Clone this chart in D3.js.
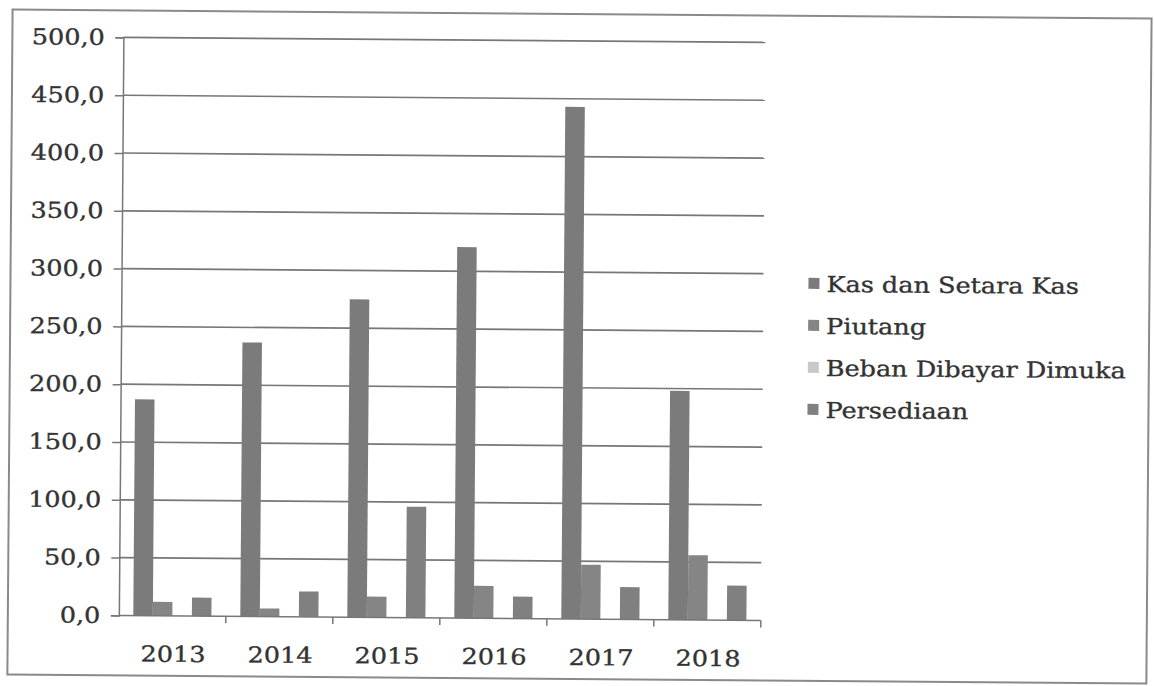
<!DOCTYPE html>
<html>
<head>
<meta charset="utf-8">
<script src="https://cdn.jsdelivr.net/npm/d3@7"></script>
<style>
  html, body { margin: 0; padding: 0; background: #fff; }
  svg { display: block; }
</style>
</head>
<body>
<svg id="chart" width="1154" height="686"></svg>
<script>
// Asset components by year (values in the chart's units)
const years = ["2013", "2014", "2015", "2016", "2017", "2018"];
const seriesNames = ["Kas dan Setara Kas", "Piutang", "Beban Dibayar Dimuka", "Persediaan"];
const kasDanSetaraKas = [187, 237, 275, 321, 443, 198];
const piutang = [12, 7, 18, 28, 47, 56];
const bebanDibayarDimuka = [0, 0, 0, 0, 0, 0];
const persediaan = [16, 22, 96, 19, 28, 30];
const yTicks = [0, 50, 100, 150, 200, 250, 300, 350, 400, 450, 500];

const seriesValues = [kasDanSetaraKas, piutang, bebanDibayarDimuka, persediaan];
const seriesColors = ["#7b7b7b", "#858585", "#c9c9c9", "#808080"];

const FONT = "'DejaVu Serif', 'Liberation Serif', serif";
const TEXT_COLOR = "#333";
const STRETCH = 1.16; // wide, bookish letterforms

// shared look for every label
function styleText(sel, size) {
  sel.attr("font-family", FONT)
    .attr("font-size", size)
    .attr("fill", TEXT_COLOR)
    .attr("stroke", TEXT_COLOR)
    .attr("stroke-width", 0.35);
}

const svg = d3.select("#chart");
const W = 1154, H = 686;

// whole sheet sits at a slight tilt
const root = svg.append("g").attr("transform", `rotate(0.45, ${W / 2}, ${H / 2})`);

// outer chart frame
root.append("rect")
  .attr("x", 10).attr("y", 14).attr("width", 1139).attr("height", 665)
  .attr("fill", "none").attr("stroke", "#8a8a8a").attr("stroke-width", 2);

const plot = { left: 121, right: 763, top: 41, bottom: 619 };

const y = d3.scaleLinear().domain([0, 500]).range([plot.bottom, plot.top]);
const x0 = d3.scaleBand().domain(years).range([plot.left, plot.right])
  .paddingInner(0.27).paddingOuter(0.135);
const x1 = d3.scaleBand().domain(seriesNames).range([0, x0.bandwidth()]);
const xCat = d3.scaleBand().domain(years).range([plot.left, plot.right]);

// horizontal gridlines
root.append("g")
  .selectAll("line").data(yTicks.filter(d => d > 0)).join("line")
  .attr("x1", plot.left).attr("x2", plot.right)
  .attr("y1", d => y(d)).attr("y2", d => y(d))
  .attr("stroke", "#777").attr("stroke-width", 1.7);

// y axis
const yAxis = d3.axisLeft(y).tickValues(yTicks).tickSize(8).tickPadding(8)
  .tickFormat(d => d3.format(".1f")(d).replace(".", ","));
const gy = root.append("g").attr("transform", `translate(${plot.left},0)`).call(yAxis)
  .attr("font-family", FONT);
gy.select(".domain").attr("stroke", "#777").attr("stroke-width", 1.5);
gy.selectAll(".tick line").attr("stroke", "#777").attr("stroke-width", 1.5);
gy.selectAll(".tick text")
  .attr("transform", `scale(${STRETCH},1)`)
  .call(styleText, 22);

// bars
const groups = root.append("g").selectAll("g").data(years).join("g")
  .attr("transform", d => `translate(${x0(d)},0)`);
groups.selectAll("rect")
  .data((yr, i) => seriesNames.map((s, k) => ({ s, k, v: seriesValues[k][i] })))
  .join("rect")
  .attr("x", d => x1(d.s))
  .attr("width", x1.bandwidth())
  .attr("y", d => y(d.v))
  .attr("height", d => y(0) - y(d.v))
  .attr("fill", d => seriesColors[d.k]);

// x axis (category boundaries as ticks)
const gx = root.append("g").attr("transform", `translate(0,${plot.bottom})`);
gx.append("line").attr("x1", plot.left).attr("x2", plot.right)
  .attr("stroke", "#777").attr("stroke-width", 1.5);
gx.selectAll("line.tk").data(years).join("line")
  .attr("class", "tk")
  .attr("x1", d => xCat(d) + xCat.bandwidth())
  .attr("x2", d => xCat(d) + xCat.bandwidth())
  .attr("y1", 0).attr("y2", 7)
  .attr("stroke", "#777").attr("stroke-width", 1.5);
gx.selectAll("text").data(years).join("text")
  .attr("transform", d => `translate(${xCat(d) + xCat.bandwidth() / 2 + 1},46) scale(${STRETCH},1)`)
  .attr("text-anchor", "middle")
  .text(d => d)
  .call(styleText, 22);

// legend
const legend = root.append("g").attr("transform", "translate(808,282)");
const li = legend.selectAll("g").data(seriesNames).join("g")
  .attr("transform", (d, i) => `translate(0,${i * 42})`);
li.append("rect").attr("x", 0).attr("y", -6).attr("width", 11).attr("height", 11)
  .attr("fill", (d, i) => seriesColors[i]);
li.append("text").attr("transform", `translate(18,8) scale(${STRETCH},1)`)
  .text(d => d)
  .call(styleText, 22);
</script>
</body>
</html>
